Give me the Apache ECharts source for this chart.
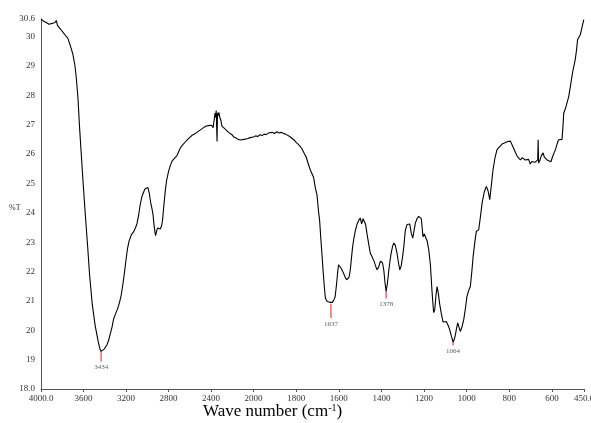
<!DOCTYPE html>
<html>
<head>
<meta charset="utf-8">
<script src="https://cdn.jsdelivr.net/npm/echarts@6/dist/echarts.min.js"></script>
<style>html,body{margin:0;padding:0;background:#fff}#c{width:591px;height:423px}</style>
</head>
<body>
<div id="c"></div>
<script>
// ---- data: 4000-2000 cm-1 (compressed part of the axis) ----
var waveHigh = [4000,3975,3950,3925,3912,3895,3881,3868,3856,3845,3834,3815,3800,3787,3765,3748,3740,3725,3712,3700,3690,3680,3668,3652,3637,3621,3605,3590,3574,3560,3543,3530,3518,3505,3490,3474,3458,3445,3434,3420,3405,3395,3380,3364,3350,3332,3317,3300,3280,3261,3245,3230,3215,3200,3185,3170,3150,3129,3110,3097,3080,3065,3050,3035,3020,3005,2994,2980,2968,2956,2946,2938,2930,2922,2912,2903,2890,2878,2865,2856,2845,2831,2818,2800,2784,2768,2753,2735,2720,2706,2690,2675,2659,2640,2620,2596,2575,2555,2533,2510,2490,2470,2450,2435,2424,2410,2395,2380,2370,2362,2356,2351,2343,2339,2333,2326,2315,2307,2297,2285,2266,2250,2235,2219,2203,2185,2165,2145,2125,2110,2090,2075,2060,2047,2030,2015,2000];
var transHigh = [30.60,30.52,30.48,30.42,30.38,30.45,30.42,30.48,30.55,30.38,30.32,30.25,30.20,30.12,30.02,29.95,29.92,29.70,29.55,29.40,29.20,29.00,28.60,27.90,26.90,26.00,25.10,24.30,23.50,22.80,21.90,21.38,20.90,20.55,20.15,19.85,19.55,19.36,19.28,19.32,19.36,19.40,19.50,19.65,19.85,20.10,20.38,20.55,20.72,20.95,21.20,21.55,21.95,22.40,22.80,23.05,23.25,23.35,23.50,23.62,23.95,24.30,24.55,24.70,24.82,24.88,24.86,24.65,24.35,24.15,23.95,23.65,23.40,23.22,23.38,23.48,23.44,23.45,23.55,23.75,24.20,24.72,25.10,25.40,25.60,25.75,25.82,25.88,25.95,26.00,26.20,26.28,26.32,26.42,26.50,26.58,26.65,26.68,26.74,26.80,26.85,26.90,26.95,26.98,26.97,26.95,26.98,26.90,26.95,27.40,27.25,27.48,26.43,27.40,27.30,27.42,27.22,27.15,26.95,26.90,26.85,26.80,26.74,26.70,26.66,26.58,26.55,26.50,26.48,26.52,26.50,26.54,26.52,26.55,26.56,26.57,26.58];
// ---- data: 2000-450 cm-1 ----
var waveLow = [2000,1990,1980,1970,1960,1950,1940,1930,1922,1912,1902,1890,1880,1870,1860,1850,1843,1830,1820,1810,1800,1790,1780,1773,1765,1753,1741,1733,1726,1718,1710,1702,1695,1690,1684,1679,1674,1668,1663,1657,1650,1643,1637,1630,1622,1617,1610,1605,1601,1595,1590,1585,1578,1570,1563,1557,1552,1546,1540,1535,1530,1522,1514,1506,1499,1493,1486,1480,1474,1468,1460,1452,1444,1436,1428,1421,1413,1405,1401,1395,1389,1383,1378,1372,1366,1361,1355,1348,1342,1335,1327,1320,1314,1307,1300,1295,1288,1280,1274,1267,1260,1253,1247,1241,1233,1225,1219,1213,1205,1199,1194,1186,1178,1170,1163,1158,1155,1150,1144,1139,1133,1127,1120,1111,1104,1096,1088,1080,1072,1064,1058,1053,1047,1042,1036,1030,1022,1014,1006,999,991,983,976,970,962,955,948,944,936,928,918,908,900,892,885,877,868,858,850,842,833,823,815,808,800,795,787,780,772,765,758,748,740,733,725,717,710,702,695,686,680,673,667,665,663,657,650,642,636,630,623,615,605,598,590,584,576,569,561,553,549,545,537,529,522,514,507,501,496,491,485,480,474,467,460,451];
var transLow = [26.58,26.62,26.60,26.66,26.63,26.68,26.66,26.72,26.68,26.74,26.70,26.76,26.72,26.74,26.70,26.68,26.64,26.60,26.54,26.48,26.40,26.33,26.25,26.18,26.06,25.90,25.62,25.45,25.34,25.20,24.85,24.60,24.05,23.75,23.10,22.60,22.06,21.50,21.10,21.00,20.98,20.95,20.90,20.95,21.05,21.15,21.60,22.00,22.23,22.20,22.12,22.08,21.95,21.80,21.72,21.66,21.80,22.06,22.50,22.85,23.10,23.40,23.62,23.75,23.82,23.62,23.80,23.82,23.60,23.30,22.95,22.62,22.50,22.38,22.20,22.06,22.15,22.35,22.40,22.30,22.05,21.60,21.32,21.60,22.00,22.30,22.60,22.85,22.97,22.90,22.63,22.30,22.06,22.20,22.55,22.85,23.40,23.60,23.65,23.62,23.30,23.14,23.40,23.65,23.80,23.88,23.90,23.80,23.18,23.28,23.31,23.05,22.74,22.20,21.35,20.85,20.60,20.70,21.20,21.49,21.25,20.90,20.60,20.28,20.22,20.30,20.18,20.02,19.80,19.60,19.70,19.85,20.10,20.25,20.10,19.96,20.12,20.36,20.75,21.15,21.35,21.49,22.00,22.51,23.00,23.37,23.40,23.42,23.85,24.33,24.70,24.90,24.75,24.45,24.90,25.45,25.85,26.15,26.22,26.26,26.35,26.38,26.44,26.43,26.40,26.44,26.38,26.20,26.06,25.95,25.88,25.80,25.88,25.86,25.80,25.76,25.82,25.66,25.75,25.80,25.72,25.68,25.80,26.49,25.70,25.78,25.95,26.04,25.90,25.84,25.80,25.78,25.74,25.90,26.05,26.15,26.35,26.49,26.43,26.50,26.90,27.40,27.55,27.60,27.95,28.30,28.62,28.88,29.05,29.22,29.55,29.90,29.98,30.07,30.30,30.58];
// ---- picked peaks: wavenumber, %T at the band, %T at the end of the red marker ----
var peakWave = [3434, 1637, 1378, 1064];
var peakTrans = [19.28, 20.90, 21.32, 19.60];
var peakMarkEnd = [18.94, 20.42, 21.08, 19.48];
// ---- tick labels ----
var xTicksHigh = [2400, 2800, 3200, 3600, 4000];
var xTicksLow = [450, 600, 800, 1000, 1200, 1400, 1600, 1800, 2000];
var yTicks = [18, 19, 20, 21, 22, 23, 24, 25, 26, 27, 28, 29, 30, 30.6];

function pairs(w, t) { return w.map(function (v, i) { return [v, t[i]]; }); }

var serif = 'Liberation Serif';
var axisCol = '#555';
var labCol = '#333';

function xAxisCfg(grid, min, max, ticks, fmt) {
  return {
    type: 'value', gridIndex: grid, min: min, max: max, inverse: true,
    axisLine: { show: true, lineStyle: { color: axisCol, width: 1 } },
    axisTick: { show: true, length: 3, lineStyle: { color: axisCol }, customValues: ticks },
    axisLabel: { customValues: ticks, formatter: fmt, fontFamily: serif, fontSize: 9, color: labCol, margin: 5 },
    splitLine: { show: false }
  };
}

var series = [
  { type: 'line', xAxisIndex: 0, yAxisIndex: 0, data: pairs(waveHigh, transHigh), showSymbol: false, symbol: 'none', lineStyle: { color: '#000', width: 1.1 }, animation: false },
  { type: 'line', xAxisIndex: 1, yAxisIndex: 1, data: pairs(waveLow, transLow), showSymbol: false, symbol: 'none', lineStyle: { color: '#000', width: 1.1 }, animation: false }
];
peakWave.forEach(function (w, i) {
  var gi = w > 2000 ? 0 : 1;
  series.push({ type: 'line', xAxisIndex: gi, yAxisIndex: gi, symbol: 'none', z: 1,
    data: [[w, peakTrans[i]], [w, peakMarkEnd[i]]],
    lineStyle: { color: '#f07070', width: 1.6 }, animation: false });
  series.push({ type: 'scatter', xAxisIndex: gi, yAxisIndex: gi, symbolSize: 1,
    itemStyle: { color: 'rgba(0,0,0,0)' },
    data: [[w, peakMarkEnd[i]]],
    label: { show: true, position: 'bottom', distance: 2, formatter: String(w), fontFamily: serif, fontSize: 7, color: labCol },
    animation: false });
});

var chart = echarts.init(document.getElementById('c'), null, { renderer: 'canvas' });
chart.setOption({
  animation: false,
  backgroundColor: '#fff',
  grid: [
    { left: 41, top: 19, width: 212.5, height: 370, containLabel: false, outerBoundsMode: 'none' },
    { left: 253.5, top: 19, width: 330.5, height: 370, containLabel: false, outerBoundsMode: 'none' }
  ],
  xAxis: [
    xAxisCfg(0, 2000, 4000, xTicksHigh, function (v) { return v === 4000 ? '4000.0' : String(v); }),
    xAxisCfg(1, 450, 2000, xTicksLow, function (v) { return v === 450 ? '450.0' : String(v); })
  ],
  yAxis: [
    { type: 'value', gridIndex: 0, min: 18, max: 30.6,
      axisLine: { show: true, lineStyle: { color: axisCol, width: 1 } },
      axisTick: { show: false },
      axisLabel: { customValues: yTicks, formatter: function (v) { return v === 18 ? '18.0' : (v === 30.6 ? '30.6' : String(v)); }, fontFamily: serif, fontSize: 9, color: labCol, margin: 6 },
      splitLine: { show: false } },
    { type: 'value', gridIndex: 1, min: 18, max: 30.6, show: false, splitLine: { show: false } }
  ],
  graphic: [
    { type: 'text', left: 9, top: 204, style: { text: '%T', fontFamily: serif, fontSize: 8, fill: labCol } },
    { type: 'text', left: 203, top: 403, style: {
        rich: { m: { fontFamily: serif, fontSize: 17, fill: '#000' }, s: { fontFamily: serif, fontSize: 10, fill: '#000', verticalAlign: 'top', padding: [0, 0, 8, 0] } },
        text: '{m|Wave number (cm}{s|-1}{m|)}' } }
  ],
  series: series
});
</script>
</body>
</html>
